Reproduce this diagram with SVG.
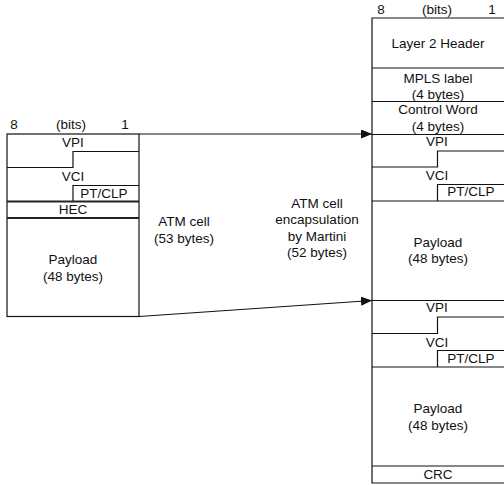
<svg xmlns="http://www.w3.org/2000/svg" width="504" height="485" viewBox="0 0 504 485">
<style>
text{font-family:"Liberation Sans",Arial,sans-serif;font-size:13.5px;fill:#111;text-anchor:middle}
.ln{stroke:#111;stroke-width:1.2;fill:none}
.th{stroke:#222;stroke-width:2;fill:none}
</style>
<defs>
<marker id="ah" markerWidth="12" markerHeight="10" refX="11" refY="4.5" orient="auto" markerUnits="userSpaceOnUse">
<path d="M0,0 L11,4.5 L0,9 Z" fill="#111"/>
</marker>
</defs>
<rect width="504" height="485" fill="#fff"/>
<g id="atm-cell">
<text x="14" y="129">8</text>
<text x="71" y="129">(bits)</text>
<text x="125" y="129">1</text>
<rect class="ln" x="7" y="134" width="132" height="182.5"/>
<text x="73" y="147">VPI</text>
<path class="ln" d="M139,151.5 H73 V167.5 H7"/>
<text x="73" y="181">VCI</text>
<path class="ln" d="M139,185.5 H73 V201.5"/>
<text x="104" y="197.5">PT/CLP</text>
<line class="th" x1="7" y1="201.5" x2="139" y2="201.5"/>
<text x="73" y="214">HEC</text>
<line class="th" x1="7" y1="218" x2="139" y2="218"/>
<text x="73" y="264">Payload</text>
<text x="73" y="281">(48 bytes)</text>
</g>
<g id="martini">
<text x="381" y="13.5">8</text>
<text x="437" y="13.5">(bits)</text>
<text x="492" y="13.5">1</text>
<path class="ln" d="M505,18 H372 V483 H505"/>
<text x="438" y="47.5">Layer 2 Header</text>
<line class="ln" x1="372" y1="68" x2="504" y2="68"/>
<text x="438" y="83">MPLS label</text>
<text x="438" y="98.5">(4 bytes)</text>
<line class="ln" x1="372" y1="101.5" x2="504" y2="101.5"/>
<text x="438" y="114">Control Word</text>
<text x="438" y="131">(4 bytes)</text>
<line class="ln" x1="372" y1="134.5" x2="504" y2="134.5"/>
<text x="437" y="146">VPI</text>
<path class="ln" d="M504,151 H437.5 V167 H372"/>
<text x="437" y="180">VCI</text>
<path class="ln" d="M504,184.5 H437.5 V201"/>
<text x="471" y="196">PT/CLP</text>
<line class="ln" x1="372" y1="201" x2="504" y2="201"/>
<text x="438" y="246.5">Payload</text>
<text x="438" y="263">(48 bytes)</text>
<line class="ln" x1="372" y1="300.5" x2="504" y2="300.5"/>
<text x="437" y="312">VPI</text>
<path class="ln" d="M504,317 H437.5 V333.5 H372"/>
<text x="437" y="346.5">VCI</text>
<path class="ln" d="M504,350.5 H437.5 V367"/>
<text x="471" y="362.5">PT/CLP</text>
<line class="ln" x1="372" y1="367" x2="504" y2="367"/>
<text x="438" y="412.5">Payload</text>
<text x="438" y="429.5">(48 bytes)</text>
<line class="ln" x1="372" y1="466" x2="504" y2="466"/>
<text x="438" y="479">CRC</text>
</g>
<g id="connectors">
<line class="ln" x1="139" y1="134" x2="372" y2="134" marker-end="url(#ah)"/>
<line class="ln" x1="139" y1="316.5" x2="372" y2="300.5" marker-end="url(#ah)"/>
</g>
<g id="labels">
<text x="184" y="225.5">ATM cell</text>
<text x="184" y="242.5">(53 bytes)</text>
<text x="317" y="207.5">ATM cell</text>
<text x="317" y="224">encapsulation</text>
<text x="317" y="240.5">by Martini</text>
<text x="317" y="257">(52 bytes)</text>
</g>
</svg>
